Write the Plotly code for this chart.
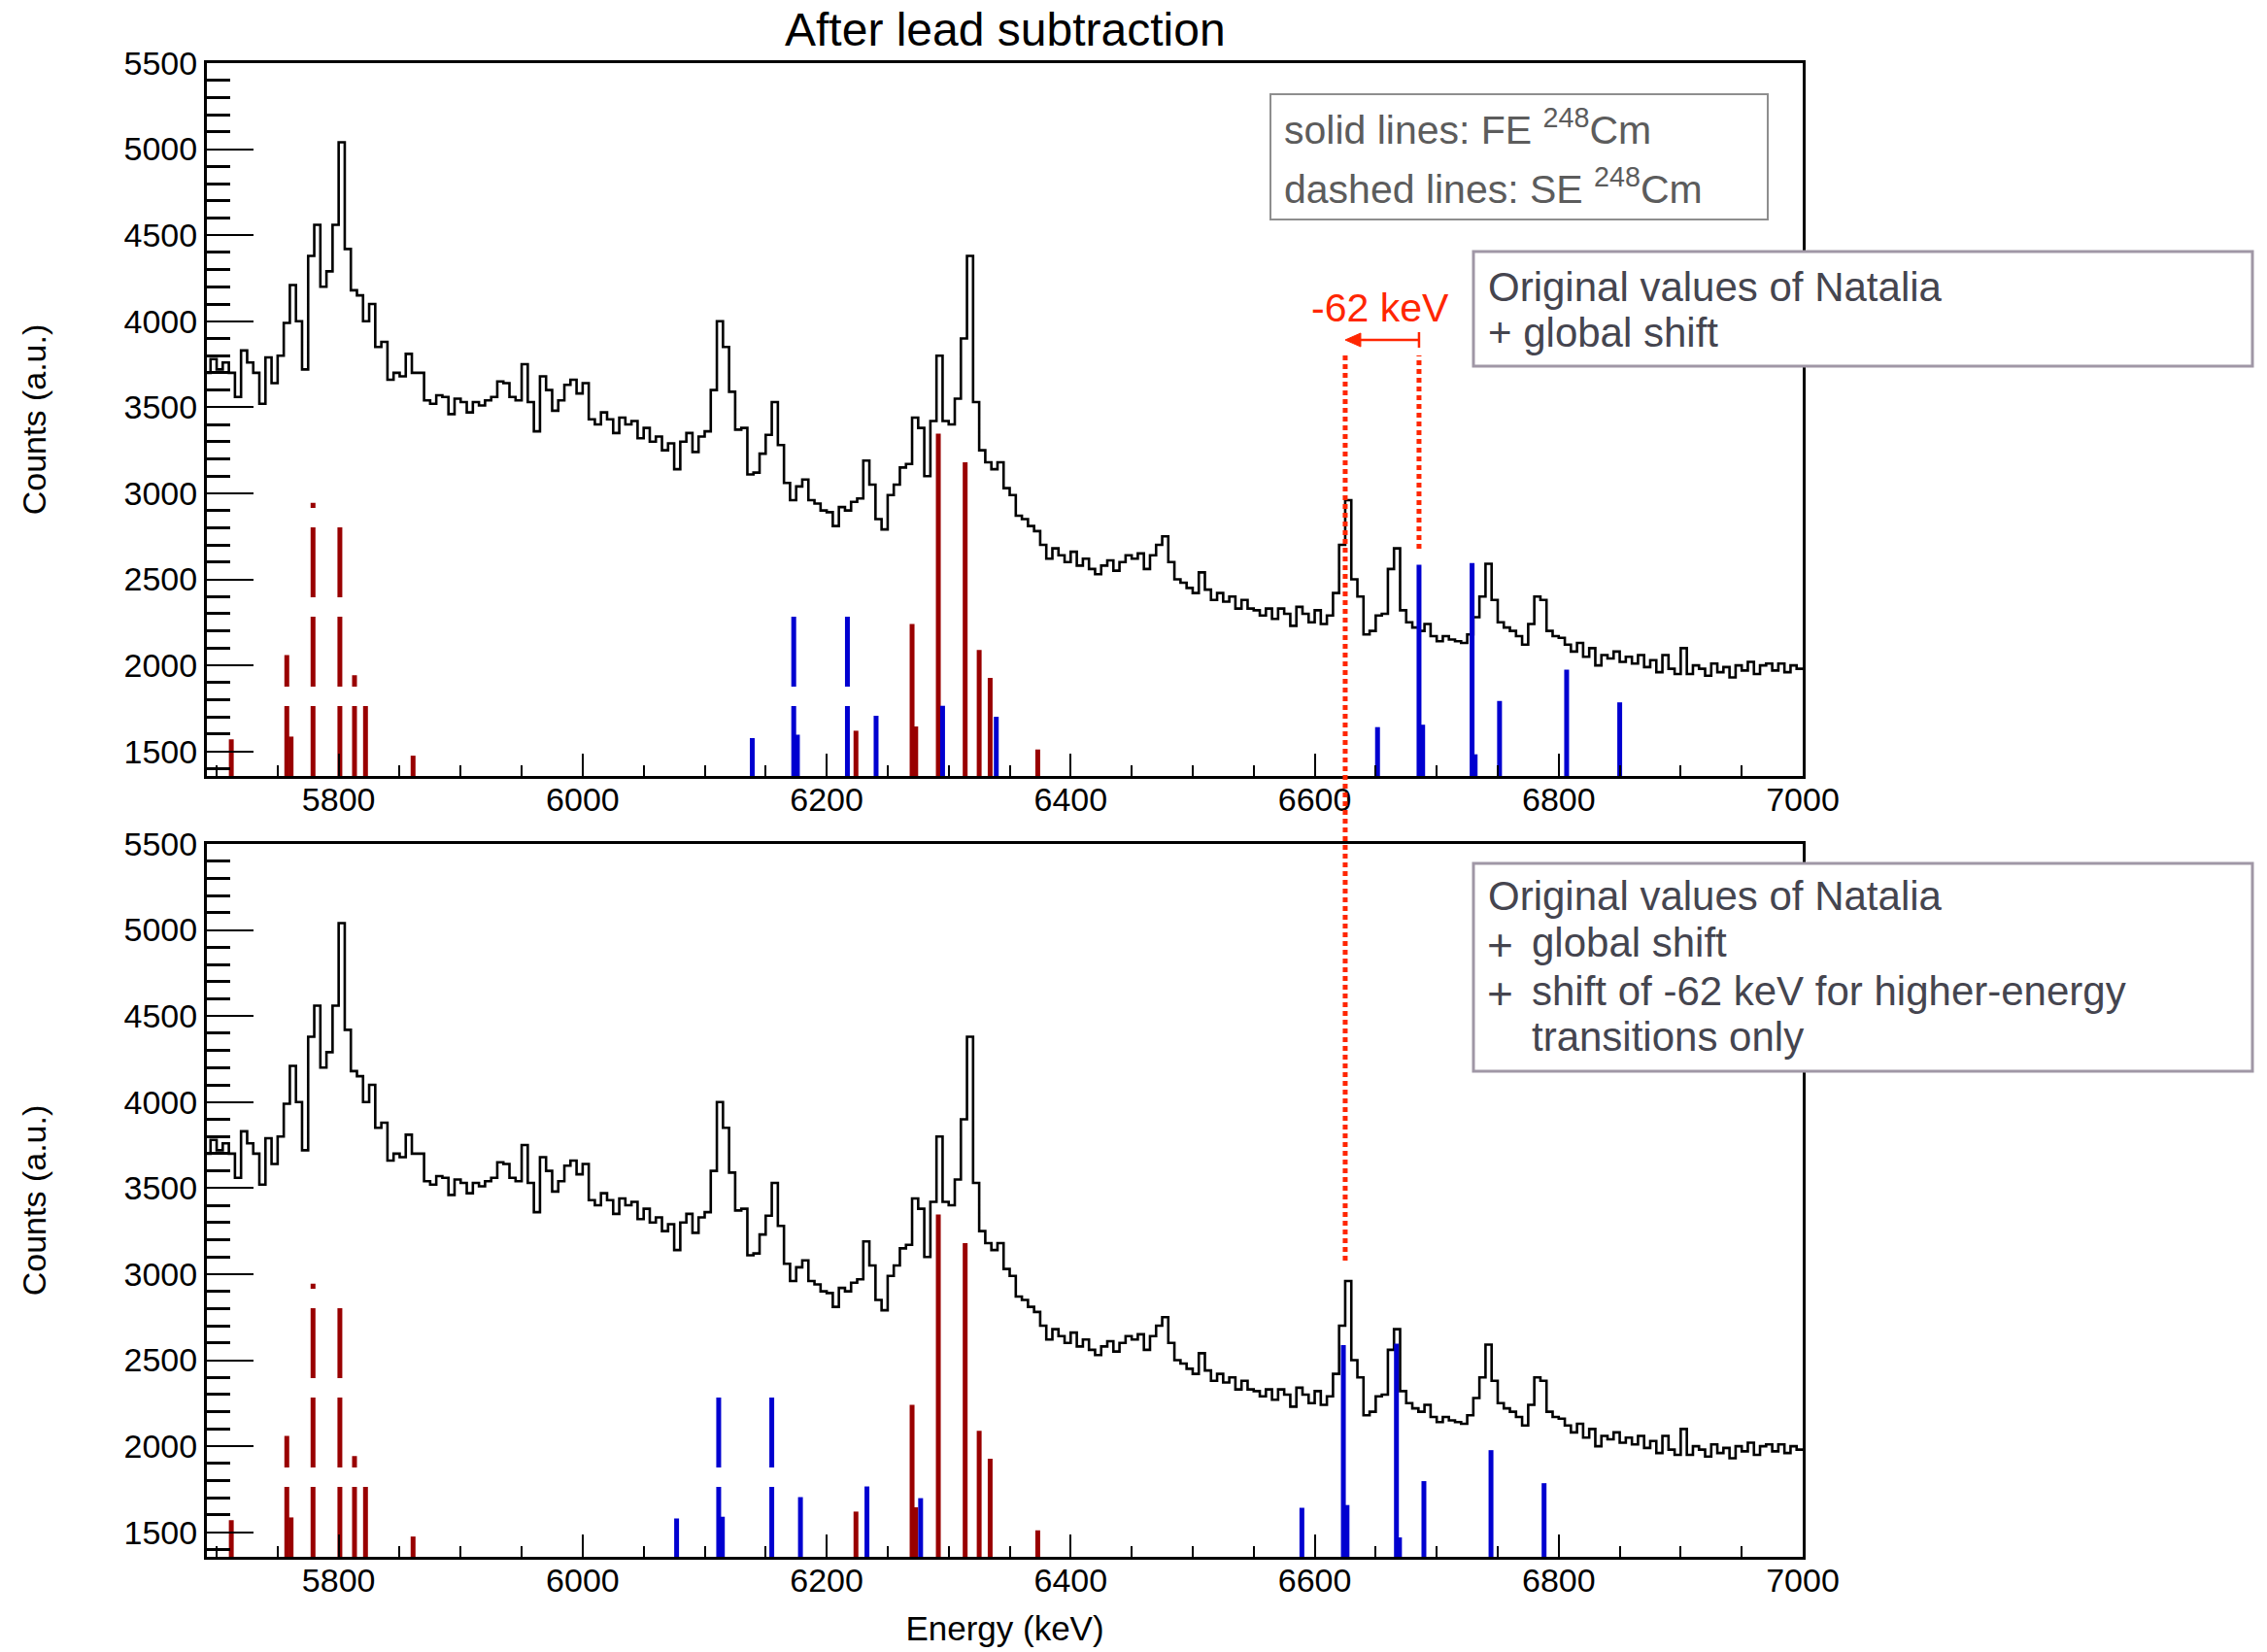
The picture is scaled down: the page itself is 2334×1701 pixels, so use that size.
import plotly.graph_objects as go

# ---------------- data ----------------
BIN_START = 5690      # keV, left edge of first bin
BIN_WIDTH = 5         # keV
counts = [
    3700, 3780, 3720, 3760, 3700, 3560, 3830, 3760, 3700, 3520,
    3790, 3640, 3800, 3990, 4210, 4000, 3720, 4380, 4560, 4200,
    4290, 4560, 5040, 4420, 4180, 4150, 4000, 4100, 3850, 3880,
    3660, 3700, 3680, 3810, 3700, 3700, 3540, 3520, 3570, 3560,
    3460, 3550, 3530, 3470, 3530, 3510, 3540, 3560, 3650, 3640,
    3560, 3540, 3750, 3530, 3360, 3680, 3600, 3480, 3540, 3630,
    3660, 3580, 3640, 3430, 3400, 3470, 3430, 3350, 3440, 3400,
    3420, 3320, 3380, 3300, 3330, 3250, 3290, 3140, 3300, 3350,
    3240, 3330, 3360, 3600, 4000, 3850, 3590, 3370, 3380, 3110,
    3120, 3230, 3340, 3530, 3280, 3060, 2960, 3040, 3080, 2960,
    2940, 2900, 2890, 2810, 2920, 2900, 2950, 2970, 3190, 3050,
    2850, 2790, 2990, 3050, 3150, 3170, 3440, 3380, 3100, 3420,
    3800, 3420, 3400, 3550, 3900, 4380, 3530, 3250, 3180, 3140,
    3180, 3030, 2990, 2870, 2850, 2810, 2780, 2700, 2620, 2680,
    2640, 2600, 2660, 2580, 2620, 2560, 2530, 2580, 2610, 2550,
    2600, 2640, 2620, 2650, 2560, 2640, 2700, 2750, 2600, 2500,
    2480, 2450, 2420, 2540, 2440, 2380, 2420, 2370, 2400, 2330,
    2380, 2330, 2320, 2290, 2330, 2270, 2330, 2300, 2230, 2340,
    2300, 2250, 2320, 2240, 2290, 2420, 2700, 2960, 2500, 2400,
    2180, 2200, 2290, 2300, 2560, 2680, 2320, 2250, 2220, 2200,
    2240, 2170, 2140, 2170, 2150, 2140, 2130, 2180, 2280, 2400,
    2590, 2380, 2250, 2220, 2200, 2170, 2120, 2240, 2400, 2380,
    2200, 2170, 2160, 2120, 2080, 2130, 2050, 2100, 2000, 2060,
    2040, 2080, 2020, 2050, 2010, 2060, 1990, 2030, 1960, 2060,
    1980, 1950, 2100, 1950, 2000, 1980, 1940, 2010, 1960, 1990,
    1930, 2000, 1970, 2020, 1950, 2000, 2010, 1970, 2010, 1960,
    2000, 1980,
]

# FE / SE 248Cm lines (red), identical in both panels
red_energy = [5712, 5757.5, 5761, 5779, 5801, 5813, 5822, 5861, 6224, 6270,
              6273, 6291.5, 6313.5, 6325, 6334, 6373]
red_height = [1570, 2060, 1586, 2945, 2815, 1942, 1766, 1475, 1620, 2240,
              1645, 3347, 3180, 2090, 1927, 1511]
red_dashed = [0, 1, 0, 1, 1, 1, 1, 0, 0, 0, 0, 0, 0, 0, 0, 0]

# blue lines, top panel (original + global shift)
blue_top_energy = [6139, 6173, 6176, 6217, 6240.5, 6295, 6339, 6651.5, 6685.5,
                   6688.5, 6729, 6731.5, 6751.5, 6806.5, 6850]
blue_top_height = [1577, 2291, 1597, 2291, 1707, 1765, 1701, 1641, 2585,
                   1655, 2594, 1483, 1793, 1975, 1785]
blue_top_dashed = [0, 1, 0, 1, 0, 0, 0, 0, 0, 0, 0, 0, 0, 0, 0]

# blue lines, bottom panel (+ shift of -62 keV)
blue_bot_energy = [6077, 6111.5, 6114.5, 6155, 6178.5, 6233, 6277, 6589.5, 6623.5,
                   6626.5, 6667, 6669.5, 6689.5, 6744.5, 6788]
blue_bot_height = [1580, 2293, 1590, 2293, 1704, 1766, 1698, 1642, 2587,
                   1658, 2596, 1470, 1797, 1977, 1785]
blue_bot_dashed = [0, 1, 0, 1, 0, 0, 0, 0, 0, 0, 0, 0, 0, 0, 0]

X_RANGE = [5692, 7000]
Y_RANGE = [1357, 5500]

# shift annotation (keV)
SHIFT_FROM = 6685.5
SHIFT_TO = 6625

# ---------------- figure ----------------
FONT = "Liberation Sans"
RED = "#990000"
BLUE = "#0000d0"
ARED = "#ff2600"

fig = go.Figure()

edges = [BIN_START + i * BIN_WIDTH for i in range(len(counts) + 1)]
hist_y = counts + [counts[-1]]

def add_lines(energies, heights, dashed, color, xa, ya):
    sx, sy = [], []
    for e, h, d in zip(energies, heights, dashed):
        if d:
            fig.add_trace(go.Scatter(x=[e, e], y=[Y_RANGE[0], h], mode="lines",
                                     line=dict(color=color, width=5, dash="72px,20px"),
                                     xaxis=xa, yaxis=ya, hoverinfo="skip"))
        else:
            sx += [e, e, None]
            sy += [Y_RANGE[0], h, None]
    fig.add_trace(go.Scatter(x=sx, y=sy, mode="lines",
                             line=dict(color=color, width=5),
                             xaxis=xa, yaxis=ya, hoverinfo="skip"))

for xa, ya, be, bh, bd in [("x", "y", blue_top_energy, blue_top_height, blue_top_dashed),
                           ("x2", "y2", blue_bot_energy, blue_bot_height, blue_bot_dashed)]:
    fig.add_trace(go.Scatter(x=edges, y=hist_y, mode="lines", line_shape="hv",
                             line=dict(color="black", width=2.6),
                             xaxis=xa, yaxis=ya, hoverinfo="skip"))
    add_lines(red_energy, red_height, red_dashed, RED, xa, ya)
    add_lines(be, bh, bd, BLUE, xa, ya)

def xaxis(anchor, title=None):
    d = dict(range=X_RANGE, anchor=anchor, domain=[0, 1],
             showline=True, linecolor="black", linewidth=3, mirror=True,
             ticks="inside", ticklen=23, tickwidth=2, tickcolor="black",
             tick0=0, dtick=200, showgrid=False, zeroline=False,
             ticklabelstandoff=-8,
             tickfont=dict(family=FONT, size=34, color="black"),
             minor=dict(ticks="inside", ticklen=11, tickwidth=2, tickcolor="black",
                        tick0=0, dtick=50, showgrid=False))
    if title:
        d["title"] = dict(text=title, standoff=20,
                          font=dict(family=FONT, size=35, color="black"))
    return d

def yaxis(anchor, domain):
    return dict(range=Y_RANGE, anchor=anchor, domain=domain,
                showline=True, linecolor="black", linewidth=3, mirror=True,
                ticks="inside", ticklen=48, tickwidth=2, tickcolor="black",
                tick0=0, dtick=500, showgrid=False, zeroline=False,
                tickfont=dict(family=FONT, size=34, color="black"),
                title=dict(text="Counts (a.u.)", standoff=70,
                           font=dict(family=FONT, size=34, color="black")),
                minor=dict(ticks="inside", ticklen=24, tickwidth=3, tickcolor="black",
                           tick0=0, dtick=100, showgrid=False))

W, H = 2334, 1701
L, R, T, B = 213, 478, 65, 98
PH = H - T - B
PW = W - L - R

def py(pix):  # pixel y -> paper y
    return (H - B - pix) / PH

def px(pix):  # pixel x -> paper x
    return (pix - L) / PW

top_dom = [py(799), 1.0]
bot_dom = [0.0, py(869)]

fig.update_layout(
    width=W, height=H,
    margin=dict(l=L, r=R, t=T, b=B, autoexpand=False),
    paper_bgcolor="white", plot_bgcolor="white",
    showlegend=False,
    font=dict(family=FONT, color="black"),
    xaxis=xaxis("y"), yaxis=yaxis("x", top_dom),
    xaxis2=xaxis("y2", "Energy (keV)"), yaxis2=yaxis("x2", bot_dom),
)

KEV_PX = PW / (X_RANGE[1] - X_RANGE[0])   # pixels per keV
shapes = []
# legend / comment boxes
shapes.append(dict(type="rect", xref="paper", yref="paper",
                   x0=px(1308), x1=px(1820), y0=py(226), y1=py(97),
                   line=dict(color="#8e8e8e", width=2), fillcolor="white", layer="above"))
shapes.append(dict(type="rect", xref="paper", yref="paper",
                   x0=px(1517), x1=px(2319), y0=py(377), y1=py(259),
                   line=dict(color="#a097a6", width=3), fillcolor="white", layer="above"))
shapes.append(dict(type="rect", xref="paper", yref="paper",
                   x0=px(1517), x1=px(2319), y0=py(1103), y1=py(889),
                   line=dict(color="#a097a6", width=3), fillcolor="white", layer="above"))
# red dotted guide lines
shapes.append(dict(type="line", xref="x", yref="paper", x0=SHIFT_TO, x1=SHIFT_TO,
                   y0=py(1298), y1=py(366),
                   line=dict(color=ARED, width=5, dash="5px,4px"), layer="above"))
shapes.append(dict(type="line", xref="x", yref="paper", x0=SHIFT_FROM, x1=SHIFT_FROM,
                   y0=py(565), y1=py(366),
                   line=dict(color=ARED, width=5, dash="5px,4px"), layer="above"))
# arrow: end cap, shaft, head
shapes.append(dict(type="line", xref="x", yref="paper", x0=SHIFT_FROM, x1=SHIFT_FROM,
                   y0=py(358), y1=py(342),
                   line=dict(color=ARED, width=2.5), layer="above"))
head_len = 16 / KEV_PX
shapes.append(dict(type="line", xref="x", yref="paper", x0=SHIFT_TO + head_len * 0.8,
                   x1=SHIFT_FROM, y0=py(350), y1=py(350),
                   line=dict(color=ARED, width=2.5), layer="above"))
shapes.append(dict(type="path", xref="x", yref="paper",
                   path=(f"M {SHIFT_TO},{py(350)} L {SHIFT_TO + head_len},{py(343)} "
                         f"L {SHIFT_TO + head_len},{py(357)} Z"),
                   line=dict(color=ARED, width=1), fillcolor=ARED, layer="above"))
fig.update_layout(shapes=shapes)

ann = []
ann.append(dict(text="After lead subtraction", xref="paper", yref="paper",
                x=0.5, y=py(30), showarrow=False, xanchor="center", yanchor="middle",
                font=dict(size=48, color="black", family=FONT)))

GREY1 = "#5c5c5c"
GREY2 = "#45454f"
def txt(t, xp, yp, color, size=42):
    ann.append(dict(text=t, xref="paper", yref="paper", x=px(xp), y=py(yp),
                    showarrow=False, xanchor="left", yanchor="middle",
                    font=dict(size=size, color=color, family=FONT)))

txt("solid lines: FE <sup>248</sup>Cm", 1320, 131, GREY1, 41)
txt("dashed lines: SE <sup>248</sup>Cm", 1320, 192, GREY1, 41)
txt("Original values of Natalia", 1530, 295, GREY2)
txt("+ global shift", 1530, 342, GREY2)
txt("Original values of Natalia", 1530, 923, GREY2)
txt("+", 1529, 973, GREY2, 46)
txt("global shift", 1575, 970, GREY2)
txt("+", 1529, 1023, GREY2, 46)
txt("shift of -62 keV for higher-energy", 1575, 1020, GREY2)
txt("transitions only", 1575, 1067, GREY2)

# -62 keV label
ann.append(dict(text="-62 keV", xref="x", yref="y", x=6654, y=4075, showarrow=False,
                xanchor="center", yanchor="middle",
                font=dict(size=41, color=ARED, family=FONT)))
fig.update_layout(annotations=ann)

fig.write_html("out.html")
